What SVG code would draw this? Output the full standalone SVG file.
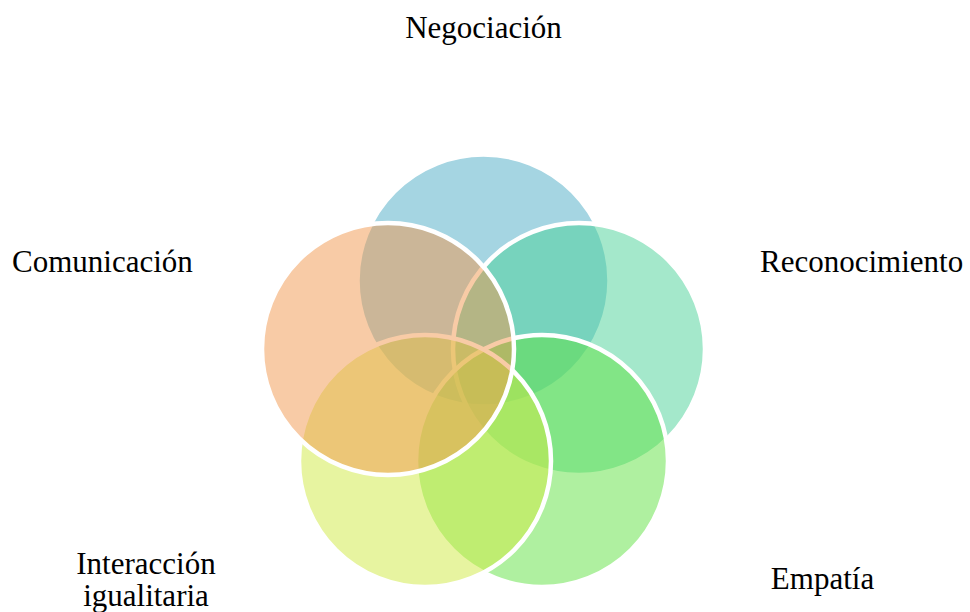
<svg xmlns="http://www.w3.org/2000/svg" width="970" height="612" viewBox="0 0 970 612">
<style>
.c{stroke:#fff;stroke-width:4.5}
.t{font-family:"Liberation Serif","Times New Roman",serif;font-size:31px;fill:#000}
</style>
<rect width="970" height="612" fill="#fff"/>
<g id="negociacion"><circle class="c" cx="483.5" cy="280.5" r="126" fill="rgb(75,172,198)" fill-opacity="0.5"/></g>
<g id="reconocimiento"><circle class="c" cx="579" cy="349" r="126" fill="rgb(73,209,151)" fill-opacity="0.5"/></g>
<g id="empatia"><circle class="c" cx="542" cy="461" r="126" fill="rgb(95,225,65)" fill-opacity="0.5"/></g>
<g id="interaccion"><circle class="c" cx="425" cy="461" r="126" fill="rgb(207,233,65)" fill-opacity="0.5"/></g>
<g id="comunicacion"><circle class="c" cx="388" cy="349" r="126" fill="rgb(241,151,77)" fill-opacity="0.5"/></g>
<g id="labels">
<text class="t" x="483.5" y="38" text-anchor="middle">Negociación</text>
<text class="t" x="12" y="272">Comunicación</text>
<text class="t" x="760" y="272">Reconocimiento</text>
<text class="t" x="146" y="574" text-anchor="middle">Interacción</text>
<text class="t" x="146" y="606" text-anchor="middle">igualitaria</text>
<text class="t" x="822.5" y="589" text-anchor="middle">Empatía</text>
</g>
</svg>
